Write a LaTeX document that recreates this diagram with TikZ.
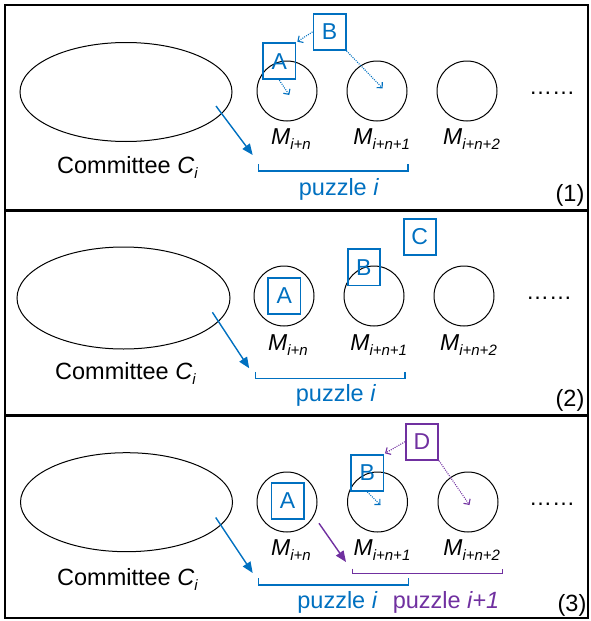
\documentclass[tikz,border=0pt]{standalone}
\usepackage{fontspec}
\setmainfont{Liberation Sans}
\usetikzlibrary{arrows.meta,shapes.geometric}
\definecolor{oblue}{HTML}{0070C0}
\definecolor{opurple}{HTML}{7030A0}
\newcommand{\subtx}[1]{\raisebox{-5pt}{\fontsize{15}{16}\selectfont\itshape #1}}
\newcommand{\Mlab}[1]{\textit{M}\subtx{#1}}
\newcommand{\Cmte}{Committee \textit{C}\subtx{i}}
\begin{document}
\begin{tikzpicture}[x=1pt,y=-1pt,
  txt/.style={font=\fontsize{23}{27}\selectfont, inner sep=0pt, anchor=base},
  bigtxt/.style={font=\fontsize{23.5}{27}\selectfont, inner sep=0pt, anchor=base},
  ell/.style={draw, ellipse, line width=1pt, inner sep=0pt},
  circ/.style={draw, circle, line width=1pt, minimum size=60pt, inner sep=0pt},
  boxb/.style={draw=oblue, text=oblue, line width=1.8pt, minimum width=32.2pt, minimum height=36.2pt, inner sep=0pt, font=\fontsize{23}{27}\selectfont},
  boxp/.style={boxb, draw=opurple, text=opurple},
  brk/.style={line width=1.6pt},
  solarrow/.style={line width=1.4pt, -{Triangle[length=11pt,width=9pt]}},
  dotarrow/.style={line width=1.1pt, dash pattern=on 1pt off 1.2pt, -{Straight Barb[length=4pt,width=8pt]}},
  frame/.style={line width=2.2pt}
]
\useasboundingbox (0,0) rectangle (590,621);
% frames
\draw[frame] (5,5) rectangle (588,618);
\draw[frame] (5,210.5) -- (588,210.5);
\draw[frame] (5,415.5) -- (588,415.5);

% ===== Panel 1 =====
\node[ell, minimum width=212pt, minimum height=99pt] (e1) at (126,92) {};
\node[circ] (c11) at (287,91) {};
\node[circ] (c12) at (377,91) {};
\node[circ] (c13) at (467,91) {};
\node[txt] (m11) at (291,144) {\Mlab{i+n}};
\node[txt] (m12) at (381.7,144) {\Mlab{i+n+1}};
\node[txt] (m13) at (471.5,144) {\Mlab{i+n+2}};
\node[txt] (d1) at (552,94) {……};
\node[bigtxt] (k1) at (127.5,173.3) {\Cmte};
\node[bigtxt, text=oblue] (p1) at (339,195) {puzzle \textit{i}};
\node[bigtxt] (n1) at (570,201) {(1)};
\node[boxb] (a1) at (279.3,61.2) {A};
\node[boxb] (b1) at (329.5,31.9) {B};
\coordinate (ta1) at (297.3,41.7);
\coordinate (t11) at (289.3,95);
\coordinate (t12) at (382.7,88.3);
\coordinate (s1) at (216,106);
\coordinate (s1e) at (252.7,155);
\coordinate (bl1) at (258.3,164.3);
\coordinate (br1) at (407.7,164.3);
\draw[oblue, brk] (bl1) -- ++(0,6.7) -| (br1);
\draw[oblue, dotarrow] (b1.west) -- (ta1);
\draw[oblue, dotarrow] (a1.south) -- (t11);
\draw[oblue, dotarrow] (b1.south east) -- (t12);
\draw[oblue, solarrow] (s1) -- (s1e);

% ===== Panel 2 =====
\node[ell, minimum width=213pt, minimum height=102pt] (e2) at (123.5,298) {};
\node[circ] (c21) at (284,296) {};
\node[circ] (c22) at (374,296) {};
\node[circ] (c23) at (464,296) {};
\node[txt] (m21) at (288,350.7) {\Mlab{i+n}};
\node[txt] (m22) at (378.7,350.7) {\Mlab{i+n+1}};
\node[txt] (m23) at (468.5,350.7) {\Mlab{i+n+2}};
\node[txt] (d2) at (549,299.5) {……};
\node[bigtxt] (k2) at (125.5,379) {\Cmte};
\node[bigtxt, text=oblue] (p2) at (336,401.7) {puzzle \textit{i}};
\node[bigtxt] (n2) at (570,406.7) {(2)};
\node[boxb] (a2) at (284.4,296) {A};
\node[boxb] (b2) at (363.7,267.3) {B};
\node[boxb] (cc2) at (419.7,236.7) {C};
\coordinate (s2) at (212.4,312.3);
\coordinate (s2e) at (249.2,368.3);
\coordinate (bl2) at (255.6,371.8);
\coordinate (br2) at (405,371.8);
\draw[oblue, brk] (bl2) -- ++(0,6.7) -| (br2);
\draw[oblue, solarrow] (s2) -- (s2e);

% ===== Panel 3 =====
\node[ell, minimum width=212pt, minimum height=99pt] (e3) at (126.5,502.2) {};
\node[circ] (c31) at (287,502) {};
\node[circ] (c32) at (377.5,502) {};
\node[circ] (c33) at (468,502) {};
\node[txt] (m31) at (291,555) {\Mlab{i+n}};
\node[txt] (m32) at (382,555) {\Mlab{i+n+1}};
\node[txt] (m33) at (471.7,555) {\Mlab{i+n+2}};
\node[txt] (d3) at (552,505) {……};
\node[bigtxt] (k3) at (127.5,585) {\Cmte};
\node[bigtxt, text=oblue] (p3) at (337.5,608) {puzzle \textit{i}};
\node[bigtxt, text=opurple] (q3) at (446,608) {puzzle \textit{i+1}};
\node[bigtxt] (n3) at (572,611.5) {(3)};
\node[boxb] (a3) at (287.5,501) {A};
\node[boxb] (b3) at (367.3,473) {B};
\node[boxp] (dd3) at (422,441.7) {D};
\coordinate (s3) at (215.7,517.5);
\coordinate (s3e) at (252.7,573);
\coordinate (u3) at (319,523.3);
\coordinate (u3e) at (346,562);
\coordinate (tb3) at (385,453.3);
\coordinate (t33) at (469.5,505);
\coordinate (t32) at (380.5,505);
\coordinate (bl3) at (258.3,578.3);
\coordinate (br3) at (408.3,578.3);
\coordinate (ql3) at (352.3,568.7);
\coordinate (qr3) at (502.5,568.7);
\draw[oblue, brk] (bl3) -- ++(0,6.7) -| (br3);
\draw[opurple, brk] (ql3) -- ++(0,4.6) -| (qr3);
\draw[oblue, solarrow] (s3) -- (s3e);
\draw[opurple, solarrow] (u3) -- (u3e);
\draw[opurple, dotarrow] (dd3.west) -- (tb3);
\draw[opurple, dotarrow] (dd3.south east) -- (t33);
\draw[oblue, dotarrow] (b3.south) -- (t32);
\end{tikzpicture}
\end{document}
